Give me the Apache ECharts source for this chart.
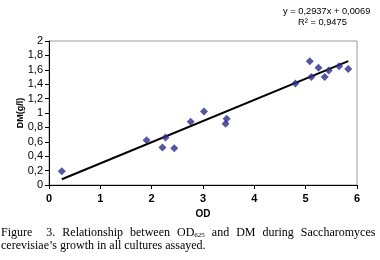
<!DOCTYPE html>
<html>
<head>
<meta charset="utf-8">
<script src="https://cdn.jsdelivr.net/npm/echarts@6/dist/echarts.min.js"></script>
<style>
  html, body { margin: 0; padding: 0; background: #fff; }
  #chart { width: 380px; height: 260px; }
</style>
</head>
<body>
<div id="chart"></div>
<script>
// OD vs DM measurements
const odValues = [0.25, 1.9, 2.21, 2.27, 2.44, 2.76, 3.02, 3.44, 3.46, 4.8, 5.08, 5.11, 5.25, 5.37, 5.45, 5.65, 5.83];
const dmValues = [0.19, 0.62, 0.52, 0.66, 0.51, 0.88, 1.02, 0.85, 0.92, 1.41, 1.72, 1.50, 1.63, 1.50, 1.59, 1.65, 1.61];
// linear trendline endpoints (y = 0,2937x + 0,0069)
const trendX = [0.25, 5.83];
const trendY = [0.08, 1.72];
const equationText = 'y = 0,2937x + 0,0069';
const r2Text = 'R² = 0,9475';

const points = odValues.map((x, i) => [x, dmValues[i]]);
const trend = trendX.map((x, i) => [x, trendY[i]]);

const serif = 'Liberation Serif, Times New Roman, serif';

const myChart = echarts.init(document.getElementById('chart'));
myChart.setOption({
  animation: false,
  textStyle: { fontFamily: 'Liberation Sans, Arial, sans-serif' },
  grid: {
    left: 49, right: 23, top: 41, bottom: 75,
    show: true, borderColor: '#9a9a9a', borderWidth: 1
  },
  xAxis: {
    type: 'value', min: 0, max: 6, interval: 1,
    name: 'OD', nameLocation: 'middle', nameGap: 23,
    nameTextStyle: { fontSize: 10, fontWeight: 'bold', color: '#000' },
    axisLine: { lineStyle: { color: '#000', width: 1 } },
    axisTick: { length: 4, lineStyle: { color: '#000' } },
    axisLabel: { fontSize: 11, fontWeight: 'bold', color: '#000', margin: 8 },
    splitLine: { show: false }
  },
  yAxis: {
    type: 'value', min: 0, max: 2, interval: 0.2,
    name: 'DM(g/l)', nameLocation: 'middle', nameGap: 24, nameMoveOverlap: false,
    nameTextStyle: { fontSize: 9, fontWeight: 'bold', color: '#000' },
    axisLine: { show: true, lineStyle: { color: '#000', width: 1 } },
    axisTick: { show: true, length: 4, lineStyle: { color: '#000' } },
    axisLabel: {
      fontSize: 11, color: '#000', margin: 6,
      formatter: v => String(Math.round(v * 10) / 10).replace('.', ',')
    },
    splitLine: { show: false }
  },
  series: [
    {
      type: 'line', data: trend, symbol: 'none', silent: true,
      lineStyle: { color: '#000', width: 2 }, z: 2
    },
    {
      type: 'scatter', data: points, symbol: 'diamond', symbolSize: 8,
      itemStyle: { color: '#2a2a8a' }, z: 3
    }
  ],
  graphic: [
    {
      type: 'text', left: 283, top: 7,
      style: { text: equationText, fontSize: 9.3, fill: '#000', fontFamily: 'Liberation Sans, Arial' }
    },
    {
      type: 'text', left: 298, top: 18,
      style: { text: r2Text, fontSize: 9.3, fill: '#000', fontFamily: 'Liberation Sans, Arial' }
    },
    {
      type: 'text', left: 1, top: 226,
      style: {
        text: '{a|Figure}{g|}{g|}{a|3.}{g|}{a|Relationship}{g|}{a|between}{g|}{a|OD}{s|625}{g|}{a|and}{g|}{a|DM}{g|}{a|during}{g|}{a|Saccharomyces}',
        rich: {
          a: { fontSize: 12, fontFamily: serif, fill: '#000', verticalAlign: 'bottom' },
          g: { width: 7, fontSize: 12 },
          s: { fontSize: 7, fontFamily: serif, fill: '#000', padding: [6, 0, 0, 0], verticalAlign: 'bottom' }
        }
      }
    },
    {
      type: 'text', left: 1, top: 240,
      style: { text: 'cerevisiae\u2019s growth in all cultures assayed.', fontSize: 12, fill: '#000', fontFamily: serif }
    }
  ]
});

window.addEventListener('resize', function () {
  myChart.resize();
});
</script>
</body>
</html>
